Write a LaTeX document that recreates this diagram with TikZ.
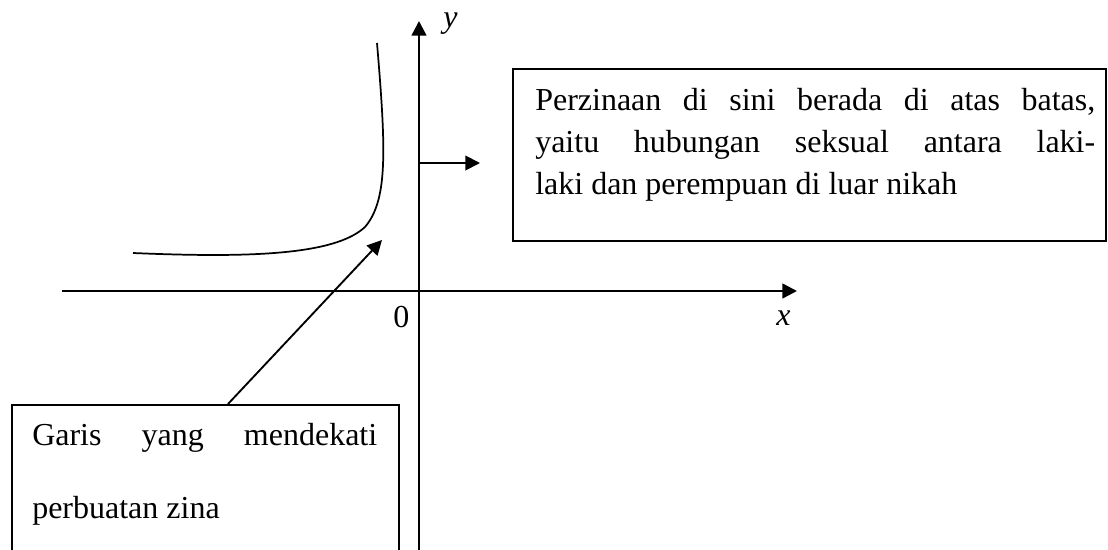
\documentclass[tikz,border=0pt]{standalone}
\usepackage{fontspec}
\setmainfont{Liberation Serif}
\usetikzlibrary{arrows.meta,calc}
\begin{document}
\begin{tikzpicture}[x=0.75pt,y=-0.75pt,
  axis/.style={line width=1.9pt,-{Triangle[length=11pt,width=11pt]}},
  pointer/.style={line width=1.4pt,-{Triangle[length=11pt,width=11pt]}},
  curveline/.style={line width=1.3pt},
  box/.style={draw,line width=1.3pt,inner sep=0pt,anchor=north west},
  txt/.style={font=\fontsize{24}{24}\selectfont,inner sep=0pt,anchor=base west},
  itxt/.style={font=\fontsize{24}{24}\selectfont\itshape,inner sep=0pt,anchor=base west}]
\clip (0,0) rectangle (1108,550);
\fill[white] (0,0) rectangle (1108,550);

% boxes
\node[box,minimum width=444.75pt,minimum height=129pt] (rbox) at (512,68) {};
\node[box,minimum width=290.25pt,minimum height=150pt] (lbox) at (11,404) {};

% right box text
\node[txt] (r1) at (535,110) {\hbox to 420pt{Perzinaan di sini berada di atas batas,}};
\node[txt] (r2) at (535,152) {\hbox to 420pt{yaitu hubungan seksual antara laki-}};
\node[txt] (r3) at (535,194) {laki dan perempuan di luar nikah};

% left box text
\node[txt] (l1) at (32,445) {\hbox to 258.75pt{Garis yang mendekati}};
\node[txt] (l2) at (32,518) {perbuatan zina};

% axes
\coordinate (ybot) at (419,560);
\coordinate (ytop) at (419,21);
\coordinate (xl) at (62,291);
\coordinate (xr) at (797,291);
\draw[axis] (ybot) -- (ytop);
\draw[axis] (xl) -- (xr);
\node[itxt] (ylab) at (443,27) {y};
\node[itxt] (xlab) at (776,325) {x};
\node[txt] (zero) at (393,327) {0};

% curve
\draw[curveline] (377,43) .. controls (386,150) and (388,200) .. (365,227)
  .. controls (335,255) and (250,258) .. (133,253);

% pointers
\coordinate (ya) at (419,163);
\coordinate (yatip) at (480,163);
\draw[pointer] (ya) -- (yatip);
\coordinate (dstart) at ($(lbox.north west)+(217,0)$);
\coordinate (dtip) at (382,240);
\draw[pointer] (dstart) -- (dtip);
\end{tikzpicture}
\end{document}
